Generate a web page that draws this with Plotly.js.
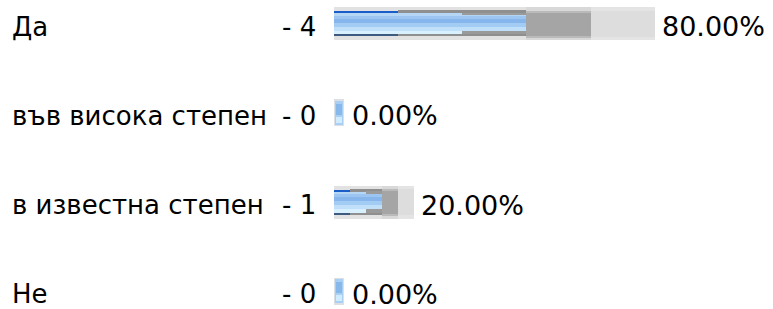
<!DOCTYPE html>
<html><head><meta charset="utf-8">
<script src="https://cdn.plot.ly/plotly-3.0.1.min.js"></script>
<style>html,body{margin:0;padding:0;background:#fff}#chart{width:773px;height:309px}</style>
</head><body><div id="chart"></div>
<script>
// ---- data ----
const categories = ["Да", "във висока степен", "в известна степен", "Не"];
const counts = [4, 0, 1, 0];
const percents = [80, 0, 20, 0];

// ---- layout constants (pixels) ----
const W = 773, H = 309;
const X0 = 334, PX100 = 401;           // x pixel of 0 %, pixels for 100 %
const ROW0 = 23.5, ROWH = 89.25;       // first row centre, row pitch
const px = p => p * 100 / PX100;       // pixels -> x units
const py = p => p / ROWH;              // pixels -> category units
const FONT = "DejaVu Sans, Verdana, sans-serif";
const TEXT_SHIFT = -3;

// bar image emulation: [fromFrac, toFrac, top px, bottom px, colour]
const STRIPES = [
  [0.0, 1.0, -16.5, 16.5, '#e4e4e4'],
  [0.8, 1.0, -13, 13, '#dddddd'],
  [0.6, 0.8, -16.5, 16.5, '#d8d8d8'],
  [0.6, 0.8, -13, 14, '#bababa'],
  [0.6, 0.8, -11, 12, '#a5a5a5'],
  [0.0, 0.6, -16.5, 16.5, '#e2e2e2'],
  [0.2, 0.6, -13.5, 12.5, '#8f8f8f'],
  [0.0, 0.2, -12.5, 12.5, '#3d5b80'],
  [0.0, 0.2, -12.5, -10.5, '#1a5dc8'],
  [0.0, 0.6, -10.5, -8, '#b6d6f6'],
  [0.0, 0.6, -8, -5, '#9cc5f1'],
  [0.0, 0.6, -5, -1, '#86b6eb'],
  [0.0, 0.6, -1, 3, '#a2ccf4'],
  [0.0, 0.6, 3, 7, '#c0e0fa'],
  [0.0, 0.6, 7, 10.5, '#d8f0fe'],
  [0.4, 0.6, -11, -8.5, '#9a9a9a'],
  [0.4, 0.6, 7, 10.5, '#9a9a9a']
];

const traces = [];
STRIPES.forEach(s => {
  traces.push({
    type: 'bar', orientation: 'h',
    y: categories,
    base: percents.map(v => v * s[0]),
    x: percents.map(v => v * (s[1] - s[0])),
    offset: py(s[2]), width: py(s[3] - s[2]),
    marker: { color: s[4], line: { width: 0 } },
    hoverinfo: 'skip', showlegend: false
  });
});

// end cap shown for empty bars: [x0 px, x1 px, top px, bottom px, colour]
const CAP = [
  [0, 10, -13.5, 13.5, '#dcdfe3'],
  [1, 9, -12, 12, '#a9cff4'],
  [2, 8, -9, 2, '#86b8ec'],
  [2, 8, 4, 10, '#d2ecff']
];
CAP.forEach(c => {
  traces.push({
    type: 'bar', orientation: 'h',
    y: categories,
    base: percents.map(v => v + px(c[0])),
    x: percents.map(() => px(c[1] - c[0])),
    offset: py(c[2]), width: py(c[3] - c[2]),
    marker: { color: percents.map(v => v === 0 ? c[4] : 'rgba(0,0,0,0)'), line: { width: 0 } },
    hoverinfo: 'skip', showlegend: false
  });
});

const annotations = [];
categories.forEach((c, i) => {
  annotations.push({
    text: c, xref: 'paper', x: (11 - X0) / PX100, xanchor: 'left',
    yref: 'y', y: c, yanchor: 'middle', yshift: TEXT_SHIFT, showarrow: false, borderpad: 0,
    font: { family: FONT, size: 26, color: '#000' }
  });
  annotations.push({
    text: '- ' + counts[i], xref: 'paper', x: (281 - X0) / PX100, xanchor: 'left',
    yref: 'y', y: c, yanchor: 'middle', yshift: TEXT_SHIFT, showarrow: false, borderpad: 0,
    font: { family: FONT, size: 26, color: '#000' }
  });
  annotations.push({
    text: percents[i].toFixed(2) + '%', xref: 'x', x: percents[i], xanchor: 'left',
    xshift: percents[i] === 0 ? 17 : 6,
    yref: 'y', y: c, yanchor: 'middle', yshift: TEXT_SHIFT, showarrow: false, borderpad: 0,
    font: { family: FONT, size: 27, color: '#000' }
  });
});

const yTop = -ROW0 / ROWH;
const yBot = yTop + H / ROWH;

const layout = {
  width: W, height: H,
  margin: { l: X0, r: W - X0 - PX100, t: 0, b: 0, pad: 0 },
  paper_bgcolor: '#fff', plot_bgcolor: '#fff',
  barmode: 'overlay', bargap: 0,
  showlegend: false,
  xaxis: { range: [0, 100], visible: false, fixedrange: true },
  yaxis: { type: 'category', categoryarray: categories, range: [yBot, yTop], visible: false, fixedrange: true },
  annotations: annotations
};

Plotly.newPlot('chart', traces, layout, { displayModeBar: false, staticPlot: true });
</script>
</body></html>
